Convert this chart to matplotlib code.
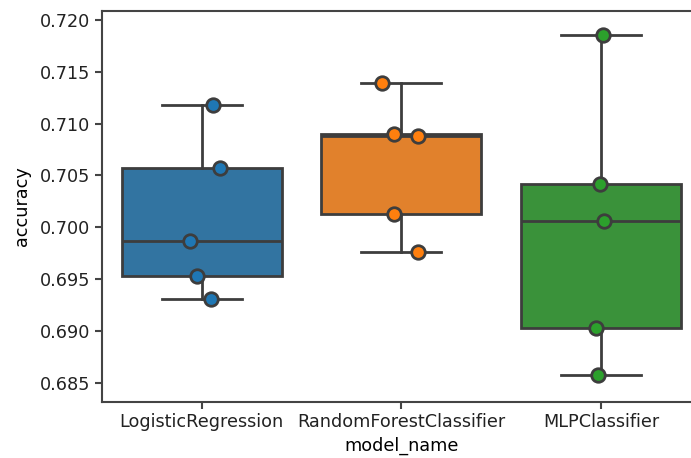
import matplotlib
matplotlib.use("Agg")
import matplotlib.pyplot as plt
import numpy as np

# dados
model_names = ["LogisticRegression", "RandomForestClassifier", "MLPClassifier"]
acc_lr = [0.7118, 0.7057, 0.6987, 0.6953, 0.6931]
acc_rf = [0.7139, 0.7090, 0.7088, 0.7013, 0.6976]
acc_mlp = [0.7186, 0.7042, 0.7006, 0.6903, 0.6857]
y_ticks = [0.685, 0.690, 0.695, 0.700, 0.705, 0.710, 0.715, 0.720]

# deslocamento horizontal dos pontos (jitter do stripplot)
jitter_lr = [0.055, 0.092, -0.058, -0.022, 0.047]
jitter_rf = [-0.098, -0.037, 0.085, -0.037, 0.083]
jitter_mlp = [0.008, -0.007, 0.013, -0.025, -0.017]

box_colors = ["#3274a1", "#e1812c", "#3a923a"]
point_colors = ["#1f77b4", "#ff7f0e", "#2ca02c"]
line_color = "#3d3d3d"

plt.rcParams["font.family"] = "DejaVu Sans"
plt.rcParams["font.size"] = 12.7

fig = plt.figure(figsize=(6.91, 4.58), dpi=100)
ax = fig.add_axes([0.147, 0.123, 0.868, 0.853])

data = [acc_lr, acc_rf, acc_mlp]
jitters = [jitter_lr, jitter_rf, jitter_mlp]
positions = np.arange(len(model_names))

bp = ax.boxplot(data, positions=positions, widths=0.8, patch_artist=True,
                whis=1.5, showfliers=False,
                medianprops=dict(color=line_color, linewidth=2),
                whiskerprops=dict(color=line_color, linewidth=2),
                capprops=dict(color=line_color, linewidth=2),
                boxprops=dict(edgecolor=line_color, linewidth=2))
for patch, c in zip(bp["boxes"], box_colors):
    patch.set_facecolor(c)
for cap in bp["caps"]:
    xd = cap.get_xdata()
    mid = (xd[0] + xd[1]) / 2
    cap.set_xdata([mid - 0.2, mid + 0.2])

for i, (vals, jit) in enumerate(zip(data, jitters)):
    ax.scatter(positions[i] + np.array(jit), vals, s=95, color=point_colors[i],
               edgecolor=line_color, linewidth=2, zorder=5)

ax.set_xlim(-0.5, 2.5)
ax.set_ylim(0.68316, 0.72087)
ax.set_yticks(y_ticks)
ax.set_yticklabels([f"{t:.3f}" for t in y_ticks])
ax.set_xticks(positions)
ax.set_xticklabels(model_names)
ax.set_xlabel("model_name", labelpad=4)
ax.set_ylabel("accuracy", labelpad=6)
for sp in ax.spines.values():
    sp.set_color("#444444")
    sp.set_linewidth(1.5)
ax.tick_params(colors="#444444", labelcolor="#222222", length=5, width=1.5)

fig.savefig("out.png", dpi=100)
